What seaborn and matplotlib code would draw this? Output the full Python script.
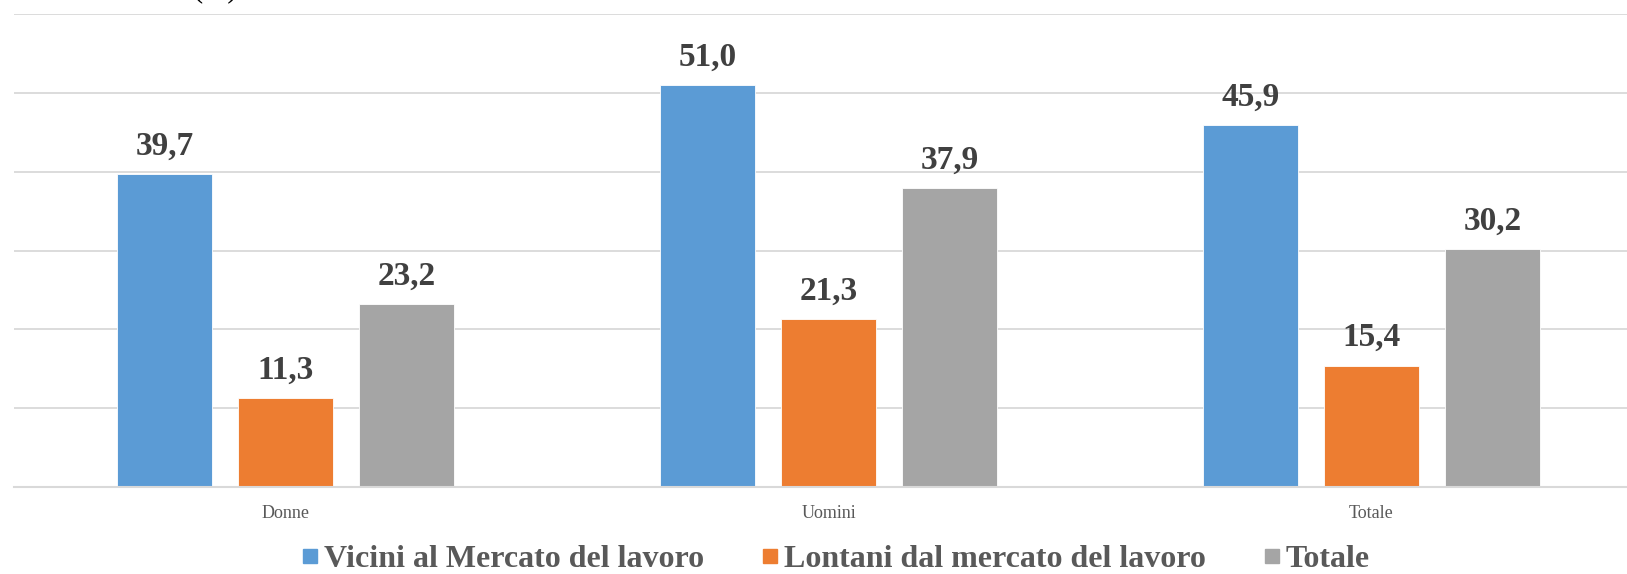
import matplotlib
matplotlib.use("Agg")
import matplotlib.pyplot as plt
from matplotlib.lines import Line2D
import seaborn as sns
import pandas as pd

categories = ["Donne", "Uomini", "Totale"]
series_names = ["Vicini al Mercato del lavoro", "Lontani dal mercato del lavoro", "Totale"]
vicini = [39.7, 51.0, 45.9]
lontani = [11.3, 21.3, 15.4]
totale = [23.2, 37.9, 30.2]
colors = ["#5B9BD5", "#ED7D31", "#A5A5A5"]

sns.set_theme(style="white")
plt.rcParams["font.family"] = ["Liberation Serif", "DejaVu Serif"]

rows = []
for name, vals in zip(series_names, [vicini, lontani, totale]):
    for cat, v in zip(categories, vals):
        rows.append({"categoria": cat, "serie": name, "valore": v})
df = pd.DataFrame(rows)

W, H = 1627, 574
fig = plt.figure(figsize=(W / 100, H / 100), dpi=100)
left, right, bottom, top = 14, 1627, 487, 14
ax = fig.add_axes([left / W, (H - bottom) / H, (right - left) / W, (bottom - top) / H])

sns.barplot(data=df, x="categoria", y="valore", hue="serie",
            order=categories, hue_order=series_names, palette=colors,
            width=0.6675, gap=0.214, legend=False, ax=ax,
            edgecolor="white", linewidth=0.6, saturation=1)

ax.set_xlim(-0.5, -0.5 + (right - left) / 543)
ax.set_ylim(0, 60)
ax.set_yticks(range(0, 61, 10))
ax.yaxis.grid(True, color="#D9D9D9", linewidth=1.3)
ax.set_axisbelow(True)
for s in ["left", "right", "top"]:
    ax.spines[s].set_visible(False)
ax.spines["bottom"].set_color("#D9D9D9")
ax.spines["bottom"].set_linewidth(1.5)
ax.tick_params(axis="y", left=False, labelleft=False)
ax.tick_params(axis="x", bottom=False, labelsize=13, colors="#595959", pad=7)
ax.set_xlabel("")
ax.set_ylabel("")

for cont in ax.containers:
    labels = [f"{b.get_height():.1f}".replace(".", ",") for b in cont]
    ax.bar_label(cont, labels=labels, padding=9, fontsize=24,
                 fontweight="bold", color="#404040")

handles = [Line2D([], [], linestyle="none", marker="s", markersize=10,
                  markerfacecolor=c, markeredgecolor=c) for c in colors]
fig.legend(handles, series_names, loc="center", bbox_to_anchor=(836 / W, 1 - 559 / H),
           ncol=3, frameon=False, handlelength=0.5, handletextpad=0.2,
           columnspacing=1.8, prop={"size": 23, "weight": "bold"},
           labelcolor="#595959")

fig.text(215 / W, 1 + 4 / H, "(%)", ha="center", va="baseline", fontsize=22, color="#000000")

fig.savefig("out.png", dpi=100)
